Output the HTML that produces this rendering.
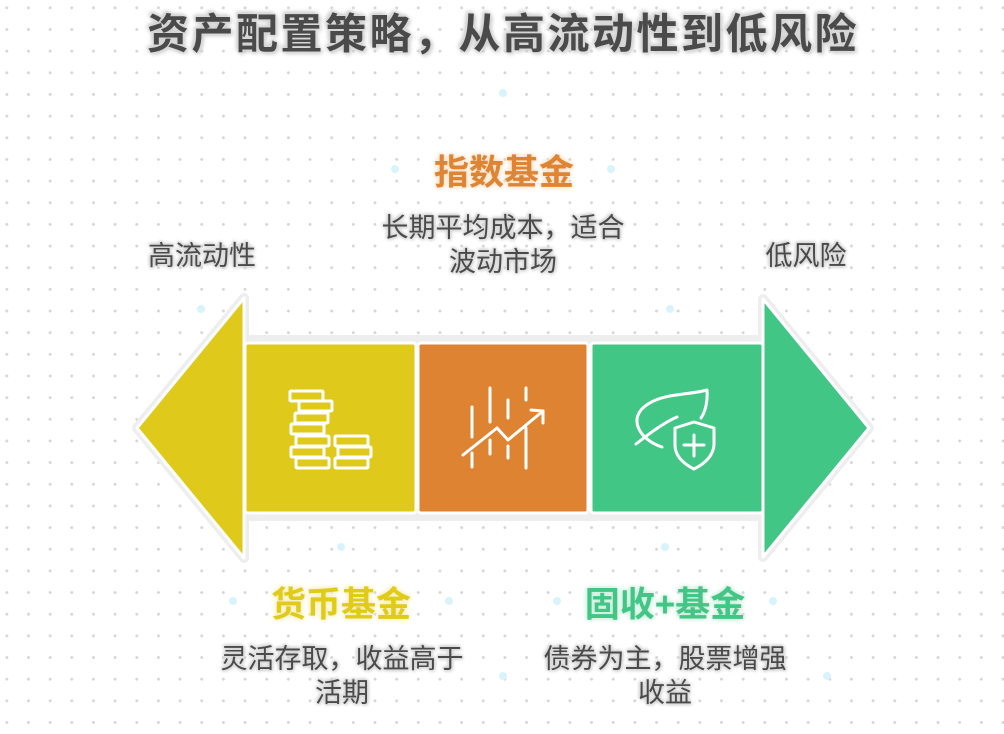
<!DOCTYPE html>
<html><head><meta charset="utf-8"><style>
body{margin:0;width:1004px;height:734px;overflow:hidden;background:#fff;
background-image:radial-gradient(circle,#d6d6d6 1.3px,transparent 1.6px);background-size:21.67px 21.67px;background-position:-4px -3px;
font-family:"Liberation Sans","Noto Sans CJK SC",sans-serif;position:relative}
.t{position:absolute;white-space:nowrap;transform:translate(-50%,-50%);text-align:center}
.title{font-size:42px;font-weight:bold;color:#4a4a4a;letter-spacing:2.5px;text-shadow:0 0 3px #ddd,0 0 5px #ccc,2px 2px 4px #ccc,-2px -2px 4px #ccc}
.h{font-size:35px;font-weight:bold}
.d{font-size:27px;color:#4a4a4a;line-height:34px;text-shadow:0 0 3px #ddd,0 0 4px #ccc,1px 1px 3px #ccc,-1px -1px 3px #ccc}
</style></head><body>
<div class="t title" style="left:503px;top:31px">资产配置策略，从高流动性到低风险</div>
<div class="t h" style="left:504px;top:170px;color:#df8432;text-shadow:0 0 4px #fbe3cc,0 0 6px #f7d9bb">指数基金</div>
<div class="t d" style="left:503px;top:245px">长期平均成本，适合<br>波动市场</div>
<div class="t d" style="left:202px;top:256px">高流动性</div>
<div class="t d" style="left:806px;top:256px">低风险</div>
<div class="t h" style="left:341px;top:602px;color:#e0cb19;text-shadow:0 0 4px #f7f0c0,0 0 6px #f5ecb0">货币基金</div>
<div class="t d" style="left:342px;top:676px">灵活存取，收益高于<br>活期</div>
<div class="t h" style="left:665px;top:602px;color:#41c685;text-shadow:0 0 4px #cdeedd,0 0 6px #c0ead5">固收+基金</div>
<div class="t d" style="left:665px;top:676px">债券为主，股票增强<br>收益</div>
<svg width="1004" height="734" style="position:absolute;left:0;top:0">
<g stroke="#eee" stroke-width="10" stroke-linejoin="round" fill="none">
<polygon points="244,298 137,428 244,558"/><rect x="240" y="340" width="527" height="176"/>
<polygon points="763,299 869,428 763,557"/></g>
<g stroke="#fff" stroke-width="3" stroke-linejoin="round">
<polygon points="244,298 137,428 244,558" fill="#dfc91a"/>
<rect x="245" y="343" width="171" height="170" rx="3" fill="#dfc91a"/>
<rect x="418" y="343" width="170" height="170" rx="3" fill="#dd8331"/>
<rect x="591" y="343" width="172" height="170" rx="3" fill="#41c685"/>
<polygon points="763,299 869,428 763,557" fill="#41c685"/></g>
<g stroke="#fff" stroke-width="3" fill="none" stroke-linecap="round" stroke-linejoin="round">
<rect x="290" y="391" width="33" height="10" rx="1"/><rect x="299" y="401" width="33" height="10" rx="1"/>
<rect x="295" y="413" width="33" height="10" rx="1"/><rect x="291" y="424" width="33" height="10" rx="1"/>
<rect x="296" y="436" width="33" height="10" rx="1"/><rect x="291" y="447" width="33" height="10" rx="1"/>
<rect x="296" y="458" width="33" height="10" rx="1"/>
<rect x="335" y="436" width="33" height="10" rx="1"/><rect x="338" y="447" width="33" height="10" rx="1"/><rect x="335" y="458" width="33" height="10" rx="1"/>
<line x1="472" y1="407" x2="472" y2="437"/><line x1="490" y1="388" x2="490" y2="422"/><line x1="508" y1="400" x2="508" y2="418"/><line x1="526" y1="388" x2="526" y2="400"/>
<line x1="472" y1="453" x2="472" y2="467"/><line x1="490" y1="440" x2="490" y2="454"/><line x1="508" y1="446" x2="508" y2="458"/><line x1="526" y1="428" x2="526" y2="468"/>
<polyline points="463,455 497,428 508,440 543,411"/><polyline points="531,410 543,411 543,423"/>
<path d="M636,444 C660,425 672,419 677,417 M662,447 C640,440 626,418 648,404 C665,393 690,395 707,390 C708,402 705,412 701,418"/>
<path d="M675,428 L694,422 L714,428 L714,445 C713,458 702,465 694,469 C686,465 675,458 675,445 Z"/>
<line x1="694" y1="435" x2="694" y2="456"/><line x1="684" y1="445" x2="704" y2="445"/>
</g>
<g fill="#d9f3fb"><circle cx="201" cy="309" r="4"/><circle cx="341" cy="547" r="4"/><circle cx="665" cy="547" r="4"/><circle cx="670" cy="309" r="4"/><circle cx="503" cy="93" r="4"/><circle cx="395" cy="169" r="4"/><circle cx="611" cy="169" r="4"/><circle cx="233" cy="601" r="4"/><circle cx="449" cy="601" r="4"/><circle cx="557" cy="601" r="4"/><circle cx="773" cy="601" r="4"/><circle cx="503" cy="676" r="4"/><circle cx="827" cy="676" r="4"/></g>
</svg>
</body></html>
